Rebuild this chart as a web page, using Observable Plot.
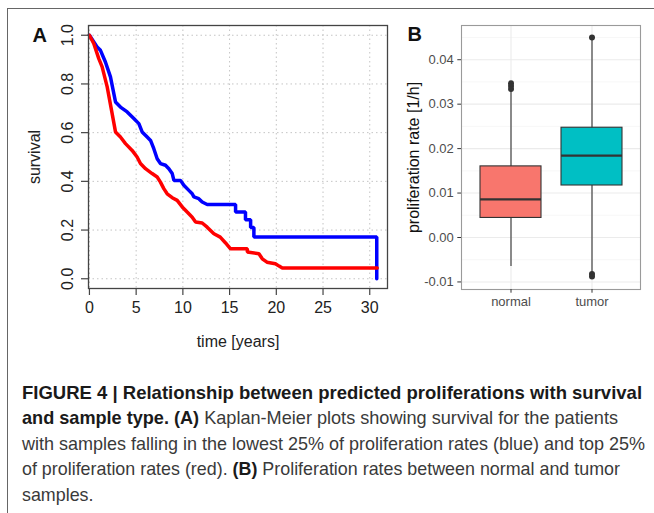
<!DOCTYPE html>
<html><head><meta charset="utf-8">
<script src="https://cdn.jsdelivr.net/npm/d3@7"></script>
<script src="https://cdn.jsdelivr.net/npm/@observablehq/plot@0.6"></script>
<style>
html,body{margin:0;padding:0;background:#fff;width:654px;height:513px;overflow:hidden;}
#frame{position:absolute;left:7px;top:8px;width:720px;height:600px;border-top:1.5px solid #666;border-left:1.5px solid #666;}
#a{position:absolute;left:0;top:0;}
#b{position:absolute;left:390px;top:0;}
#cap{position:absolute;left:22px;top:380px;font-family:"Liberation Sans",Arial,sans-serif;font-size:16px;line-height:25.4px;color:#3a3a3a;white-space:nowrap;}
#cap div{height:25.4px;}
#cap span.ln{display:inline-block;transform-origin:0 50%;}
#cap b{color:#1a1a1a;}
</style></head><body>
<div id="frame"></div>
<div id="a"></div>
<div id="b"></div>
<div id="cap">
<div><span class="ln"><b>FIGURE 4 | Relationship between predicted proliferations with survival</b></span></div>
<div><span class="ln"><b>and sample type. (A)</b> Kaplan-Meier plots showing survival for the patients</span></div>
<div><span class="ln">with samples falling in the lowest 25% of proliferation rates (blue) and top 25%</span></div>
<div><span class="ln">of proliferation rates (red). <b>(B)</b> Proliferation rates between normal and tumor</span></div>
<div><span class="ln">samples.</span></div>
</div>
<script>
// Panel A: Kaplan-Meier curves (time in years, survival)
const blueT = [0, 0.82, 1.18, 1.71, 2.25, 2.79, 3.32, 4.04, 4.75, 5.29, 5.64, 6.18, 6.54, 6.89, 7.25, 7.6, 8.14, 8.5, 8.86, 9.04, 9.75, 10.1, 10.64, 11.0, 11.18, 11.7, 12.07, 12.6, 15.64, 15.64, 16.7, 16.7, 17.25, 17.25, 17.6, 17.6, 30.75, 30.75];
const blueS = [1.0, 0.952, 0.938, 0.89, 0.829, 0.726, 0.705, 0.685, 0.658, 0.637, 0.603, 0.582, 0.568, 0.534, 0.493, 0.473, 0.466, 0.452, 0.432, 0.404, 0.404, 0.384, 0.363, 0.349, 0.336, 0.329, 0.315, 0.305, 0.305, 0.274, 0.274, 0.242, 0.242, 0.21, 0.21, 0.171, 0.171, 0.0];
const redT = [0, 0.46, 1.0, 1.36, 1.9, 2.43, 2.79, 3.32, 3.86, 4.57, 5.1, 5.46, 6.0, 6.71, 7.25, 7.6, 7.96, 8.32, 8.86, 9.39, 9.93, 10.46, 11.0, 11.36, 12.07, 12.6, 13.32, 14.0, 14.57, 15.1, 16.9, 16.9, 18.14, 18.5, 19.0, 19.9, 20.3, 20.64, 30.8];
const redS = [1.0, 0.966, 0.904, 0.87, 0.788, 0.678, 0.603, 0.582, 0.555, 0.527, 0.5, 0.473, 0.452, 0.432, 0.418, 0.397, 0.37, 0.349, 0.333, 0.322, 0.295, 0.274, 0.253, 0.233, 0.229, 0.212, 0.185, 0.171, 0.147, 0.123, 0.123, 0.11, 0.103, 0.082, 0.068, 0.062, 0.052, 0.044, 0.044];
const xTicksA = [0, 5, 10, 15, 20, 25, 30];
const yTicksA = [0, 0.2, 0.4, 0.6, 0.8, 1.0];

// Panel B: box plot summaries of proliferation rate [1/h]
const groups = ["normal", "tumor"];
const boxColors = ["#F8766D", "#00BFC4"];
const q1 = [0.0044, 0.0117];
const med = [0.0086, 0.0184];
const q3 = [0.0160, 0.0247];
const whiskLo = [-0.0065, -0.0079];
const whiskHi = [0.0331, 0.0447];
const outGroup = ["normal", "normal", "normal", "tumor", "tumor", "tumor"];
const outVal = [0.0347, 0.0341, 0.0334, 0.0450, -0.0082, -0.0088];
const yTicksB = [-0.01, 0, 0.01, 0.02, 0.03, 0.04];
const yMinorB = [-0.005, 0.005, 0.015, 0.025, 0.035, 0.045];

const blue = blueT.map((t, i) => ({t, s: blueS[i]}));
const red = redT.map((t, i) => ({t, s: redS[i]}));
const boxes = groups.map((g, i) => ({g, c: boxColors[i], q1: q1[i], med: med[i], q3: q3[i], lo: whiskLo[i], hi: whiskHi[i]}));
const outs = outGroup.map((g, i) => ({g, v: outVal[i]}));

const plotA = Plot.plot({
  width: 400, height: 360,
  marginLeft: 88, marginRight: 13, marginTop: 25, marginBottom: 72,
  style: {fontFamily: "'Liberation Sans', Arial, sans-serif", fontSize: "16px", color: "#222", background: "transparent"},
  x: {domain: [-0.1, 31.9]},
  y: {domain: [-0.04, 1.04]},
  marks: [
    Plot.gridX(xTicksA, {stroke: "#c4c4c4", strokeOpacity: 1, strokeDasharray: "1.5,3"}),
    Plot.gridY(yTicksA, {stroke: "#c4c4c4", strokeOpacity: 1, strokeDasharray: "1.5,3"}),
    Plot.line(blue, {x: "t", y: "s", stroke: "#0000ff", strokeWidth: 3.5, strokeLinejoin: "miter"}),
    Plot.line(red, {x: "t", y: "s", stroke: "#ff0000", strokeWidth: 3.5, strokeLinejoin: "miter"}),
    Plot.frame({stroke: "#444", strokeWidth: 1.3}),
    Plot.axisX(xTicksA, {tickSize: 7, tickPadding: 6, stroke: "#444", strokeWidth: 1.2, label: "time [years]", labelAnchor: "center", labelOffset: 58, labelArrow: "none"}),
    Plot.axisY(yTicksA, {tickSize: 7, tickPadding: 9, tickRotate: -90, stroke: "#444", strokeWidth: 1.2, tickFormat: d => d.toFixed(1), label: "survival", labelAnchor: "center", labelOffset: 60, labelArrow: "none"}),
    Plot.text(["A"], {frameAnchor: "top-left", dx: -56, dy: 2, fontWeight: "bold", fontSize: 20, fill: "#111", textAnchor: "start"})
  ]
});
document.getElementById("a").append(plotA);

const plotB = Plot.plot({
  width: 264, height: 320,
  marginLeft: 71, marginRight: 14, marginTop: 25, marginBottom: 31,
  style: {fontFamily: "'Liberation Sans', Arial, sans-serif", fontSize: "13px", color: "#4d4d4d", background: "transparent"},
  x: {type: "band", domain: groups, paddingInner: 0.25, paddingOuter: 0.225},
  y: {domain: [-0.0117, 0.0477]},
  color: {type: "identity"},
  marks: [
    Plot.gridY(yMinorB, {stroke: "#f3f3f3", strokeOpacity: 1, strokeWidth: 0.7}),
    Plot.gridY(yTicksB, {stroke: "#ebebeb", strokeOpacity: 1, strokeWidth: 1.1}),
    Plot.gridX(groups, {stroke: "#ebebeb", strokeOpacity: 1, strokeWidth: 1.1}),
    Plot.ruleX(boxes, {x: "g", y1: "lo", y2: "hi", stroke: "#333", strokeWidth: 1.1}),
    Plot.barY(boxes, {x: "g", y1: "q1", y2: "q3", fill: "c", stroke: "#333", strokeWidth: 1.1}),
    Plot.tickY(boxes, {x: "g", y: "med", stroke: "#333", strokeWidth: 2.2}),
    Plot.dot(outs, {x: "g", y: "v", r: 3, fill: "#333", stroke: "none"}),
    Plot.frame({stroke: "#9a9a9a", strokeWidth: 1.1}),
    Plot.axisY(yTicksB, {tickSize: 3.7, tickPadding: 4, stroke: "#333", tickFormat: d => d.toFixed(2), label: "proliferation rate [1/h]", labelAnchor: "center", labelOffset: 54, labelArrow: "none", fill: "#4d4d4d"}),
    Plot.axisX(groups, {tickSize: 3.7, tickPadding: 4, stroke: "#333", label: null, fill: "#4d4d4d"}),
    Plot.text(["B"], {frameAnchor: "top-left", dx: -54, dy: 1, fontWeight: "bold", fontSize: 20, fill: "#111", textAnchor: "start"})
  ]
});
document.getElementById("b").append(plotB);
plotB.querySelectorAll("g[aria-label='y-axis label'] text").forEach(t => { t.setAttribute("fill", "#111"); t.style.fontSize = "16px"; });
plotA.querySelectorAll("g[aria-label='x-axis label'] text, g[aria-label='y-axis label'] text").forEach(t => t.setAttribute("fill", "#222"));

// caption: fit each line to the width it spans in the figure
const cap = document.getElementById("cap");
const lines = [...cap.querySelectorAll("span.ln")];
const fs = 16 * 620 / lines[0].getBoundingClientRect().width;
cap.style.fontSize = fs.toFixed(2) + "px";
const targets = [620, 596, 623, 598];
let lastScale = 1;
lines.forEach((ln, i) => {
  const wd = ln.getBoundingClientRect().width;
  const s = i < targets.length ? targets[i] / wd : lastScale;
  ln.style.transform = `scaleX(${s.toFixed(4)})`;
  lastScale = s;
});
</script>
</body></html>
